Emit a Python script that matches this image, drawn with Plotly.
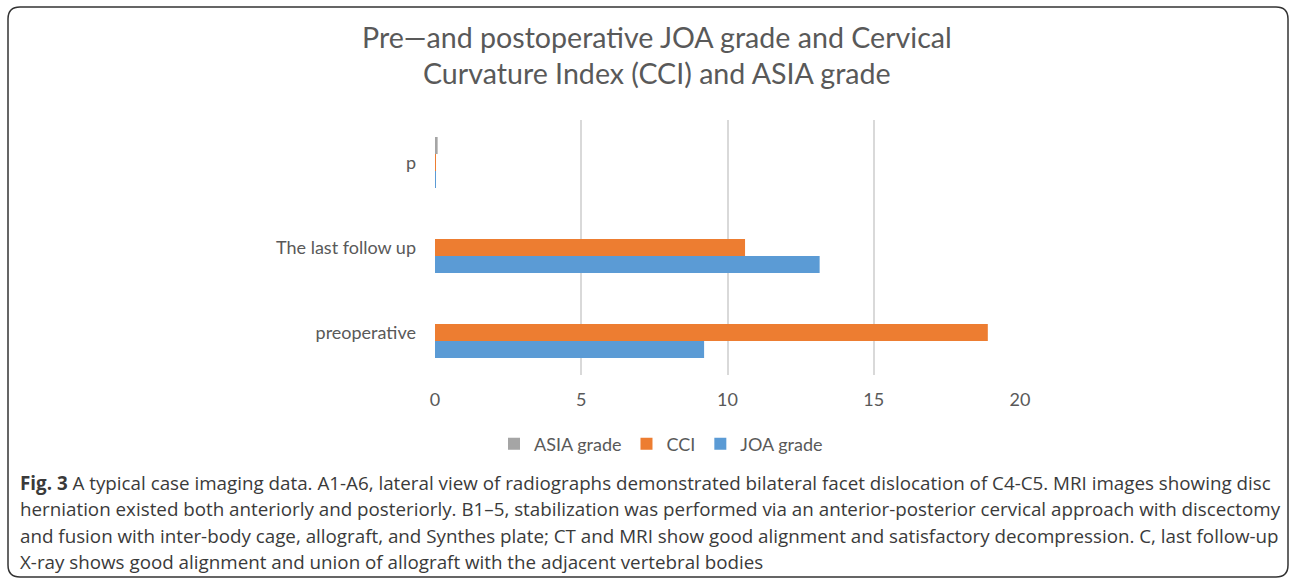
import plotly.graph_objects as go

categories = ["preoperative", "The last follow up", "p"]
joa_grade = [9.2, 13.15, 0.001]
cci = [18.9, 10.6, 0.001]
asia_grade = [None, None, 0.09]
x_ticks = [0, 5, 10, 15, 20]

title_lines = ["Pre\u2014and postoperative JOA grade and Cervical",
               "Curvature Index (CCI) and ASIA grade"]
caption_lines = [
    "<b>Fig. 3</b> A typical case imaging data. A1-A6, lateral view of radiographs demonstrated bilateral facet dislocation of C4-C5. MRI images showing disc",
    "herniation existed both anteriorly and posteriorly. B1\u20135, stabilization was performed via an anterior-posterior cervical approach with discectomy",
    "and fusion with inter-body cage, allograft, and Synthes plate; CT and MRI show good alignment and satisfactory decompression. C, last follow-up",
    "X-ray shows good alignment and union of allograft with the adjacent vertebral bodies",
]

W, H = 1290, 578
L, R, T, B = 435, 270, 120, 203
PW, PH = W - L - R, H - T - B

def px(x):
    return (x - L) / PW

def py(y):
    return (H - B - y) / PH

fig = go.Figure()
fig.add_trace(go.Bar(y=categories, x=joa_grade, name="JOA grade", orientation="h",
                     marker=dict(color="#5B9BD5", line=dict(width=0))))
fig.add_trace(go.Bar(y=categories, x=cci, name="CCI", orientation="h",
                     marker=dict(color="#ED7D31", line=dict(width=0))))
fig.add_trace(go.Bar(y=categories, x=asia_grade, name="ASIA grade", orientation="h",
                     marker=dict(color="#A5A5A5", line=dict(width=0))))

chart_font = "Lato, 'Open Sans', sans-serif"
cap_font = "'Open Sans', sans-serif"

annotations = []
for i, line in enumerate(title_lines):
    annotations.append(dict(text=line, x=px(657), y=py(37 + i * 36), xref="paper", yref="paper",
                            xanchor="center", yanchor="middle", showarrow=False,
                            font=dict(family=chart_font, size=28.6, color="#595959")))
for i, line in enumerate(caption_lines):
    annotations.append(dict(text=line, x=px(18), y=py(483 + i * 26.3), xref="paper", yref="paper",
                            xanchor="left", yanchor="middle", showarrow=False,
                            font=dict(family=cap_font, size=18.8, color="#3a3a3a")))

# rounded frame
x0, x1 = px(8), px(1288)
y0, y1 = py(7), py(577)
rx, ry = 12 / PW, 12 / PH
path = (f"M {x0},{y1 + ry} L {x0},{y0 - ry} Q {x0},{y0} {x0 + rx},{y0} "
        f"L {x1 - rx},{y0} Q {x1},{y0} {x1},{y0 - ry} "
        f"L {x1},{y1 + ry} Q {x1},{y1} {x1 - rx},{y1} "
        f"L {x0 + rx},{y1} Q {x0},{y1} {x0},{y1 + ry} Z")

fig.update_layout(
    width=W, height=H,
    margin=dict(l=L, r=R, t=T, b=B, pad=0),
    paper_bgcolor="white", plot_bgcolor="white",
    barmode="group", bargap=0.4, bargroupgap=0,
    showlegend=True,
    legend=dict(orientation="h", traceorder="reversed", x=px(661), y=py(444),
                xanchor="center", yanchor="middle",
                font=dict(family=chart_font, size=18, color="#595959"),
                itemwidth=30),
    xaxis=dict(range=[0, 20], tickvals=x_ticks, showgrid=True, gridcolor="#D9D9D9", gridwidth=1.5,
               zeroline=False, showline=False, ticks="",
               tickfont=dict(family=chart_font, size=18, color="#595959"),
               ticklabelstandoff=12),
    yaxis=dict(showgrid=False, showline=False, zeroline=False, ticks="",
               tickfont=dict(family=chart_font, size=18, color="#595959"),
               ticklabelstandoff=18),
    annotations=annotations,
    shapes=[dict(type="path", path=path, xref="paper", yref="paper",
                 line=dict(color="#333333", width=1.5), fillcolor="rgba(0,0,0,0)")],
)

fig.write_html("out.html", config={"displayModeBar": False},
               post_script="document.body.style.margin='0';")
